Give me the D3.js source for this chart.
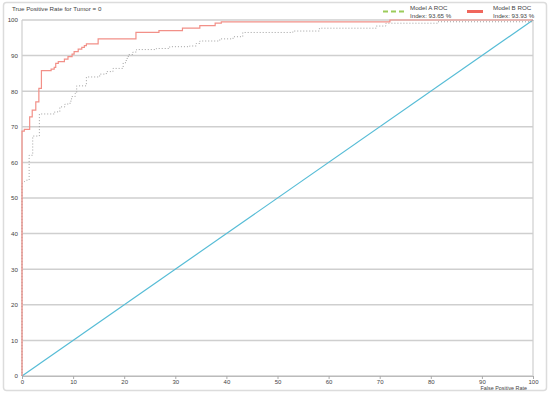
<!DOCTYPE html>
<html>
<head>
<meta charset="utf-8">
<script src="https://cdn.jsdelivr.net/npm/d3@7"></script>
<style>
  html, body { margin: 0; padding: 0; background: #fff; }
  svg text { font-family: "Liberation Sans", Arial, sans-serif; fill: #444; }
</style>
</head>
<body>
<svg id="chart" width="550" height="394"></svg>
<script>
// tick values on both axes
const xTicks = [0, 10, 20, 30, 40, 50, 60, 70, 80, 90, 100];
const yTicks = [0, 10, 20, 30, 40, 50, 60, 70, 80, 90, 100];

// Model B ROC (false positive rate, true positive rate)
const modelBFpr = [0, 0, 0.45, 0.45, 1.5, 1.5, 2.0, 2.0, 2.7, 2.7, 3.3, 3.3, 3.8, 3.8, 5.7, 5.7, 6.3, 6.3, 6.6, 6.6,
  7.1, 7.1, 8.3, 8.3, 9.0, 9.0, 9.8, 9.8, 10.2, 10.2, 11.0, 11.0, 11.7, 11.7, 12.2, 12.2, 12.6, 12.6,
  14.9, 14.9, 22.3, 22.3, 26.8, 26.8, 31.4, 31.4, 34.8, 34.8, 37.8, 37.8, 39.0, 39.0, 72.0, 72.0, 100];
const modelBTpr = [0, 68.8, 68.8, 69.3, 69.3, 72.8, 72.8, 74.7, 74.7, 77.0, 77.0, 80.8, 80.8, 85.8, 85.8, 86.2, 86.2, 86.7, 86.7, 87.8,
  87.8, 88.3, 88.3, 89.0, 89.0, 89.7, 89.7, 90.4, 90.4, 91.1, 91.1, 91.8, 91.8, 92.3, 92.3, 92.8, 92.8, 93.3,
  93.3, 94.7, 94.7, 96.5, 96.5, 97.0, 97.0, 97.7, 97.7, 98.4, 98.4, 99.1, 99.1, 99.5, 99.5, 100, 100];

// Model A ROC
const modelAFpr = [0, 0, 0.8, 1.4, 1.4, 2.1, 2.1, 3.4, 3.4, 6.4, 6.4, 7.4, 7.4, 8.4, 8.4, 9.4, 9.4, 9.7, 9.7, 10.4,
  10.4, 10.7, 10.7, 12.6, 12.6, 15.2, 15.2, 16.5, 16.5, 17.8, 17.8, 19.8, 19.8, 20.4, 20.4, 20.8, 20.8,
  21.7, 21.7, 22.4, 22.4, 26.3, 26.3, 28.9, 28.9, 32.8, 32.8, 34.1, 34.1, 34.8, 34.8, 38.7, 38.7,
  41.3, 41.3, 43.2, 43.2, 53.0, 53.0, 58.2, 58.2, 69.3, 69.3, 71.2, 71.2, 81.3, 81.3, 100, 100];
const modelATpr = [0, 54, 55, 55, 62, 62, 67.4, 67.4, 73.6, 73.6, 74.2, 74.2, 75.6, 75.6, 76.4, 76.4, 77.2, 77.2, 78.5, 78.5,
  79.4, 79.4, 81.5, 81.5, 84.0, 84.0, 84.8, 84.8, 85.5, 85.5, 86.4, 86.4, 88.0, 88.0, 89.2, 89.2, 90.3,
  90.3, 91.0, 91.0, 91.7, 91.7, 92.0, 92.0, 92.5, 92.5, 92.7, 92.7, 93.4, 93.4, 94.1, 94.1, 94.7,
  94.7, 95.3, 95.3, 96.5, 96.5, 96.9, 96.9, 97.7, 97.7, 98.3, 98.3, 99.1, 99.1, 99.5, 99.5, 100];

// chance line
const chanceFpr = [0, 100];
const chanceTpr = [0, 100];

const legendNames = ["Model A ROC", "Model B ROC"];
const legendIndex = ["Index: 93.65 %", "Index: 93.93 %"];

const svg = d3.select("#chart");
const plotLeft = 22, plotRight = 533, plotTop = 20, plotBottom = 376;

const x = d3.scaleLinear().domain([0, 100]).range([plotLeft, plotRight]);
const y = d3.scaleLinear().domain([0, 100]).range([plotBottom, plotTop]);

// outer frame
svg.append("rect")
  .attr("x", 3.5).attr("y", 2.5)
  .attr("width", 543).attr("height", 388)
  .attr("rx", 3)
  .attr("fill", "#fff")
  .attr("stroke", "#dcdcdc")
  .attr("stroke-width", 1.5);

// horizontal grid
svg.append("g")
  .selectAll("line")
  .data(yTicks)
  .join("line")
  .attr("x1", plotLeft).attr("x2", plotRight)
  .attr("y1", d => y(d)).attr("y2", d => y(d))
  .attr("stroke", "#cfcfcf")
  .attr("stroke-width", 1.5);

// plot borders left/right
svg.append("line")
  .attr("x1", plotRight).attr("x2", plotRight)
  .attr("y1", plotTop).attr("y2", plotBottom)
  .attr("stroke", "#cfcfcf").attr("stroke-width", 1.2);
svg.append("line")
  .attr("x1", plotLeft).attr("x2", plotLeft)
  .attr("y1", plotTop).attr("y2", plotBottom)
  .attr("stroke", "#cfcfcf").attr("stroke-width", 1.2);

// x axis
const xAxis = d3.axisBottom(x).tickValues(xTicks).tickSize(3).tickPadding(1);
const gx = svg.append("g").attr("transform", `translate(0,${plotBottom})`).call(xAxis);
gx.select(".domain").attr("stroke", "#bbb");
gx.selectAll(".tick line").attr("stroke", "#aaa");
gx.selectAll(".tick text").attr("font-size", 6).attr("fill", "#444");

// y axis
const yAxis = d3.axisLeft(y).tickValues(yTicks).tickSize(0).tickPadding(4);
const gy = svg.append("g").attr("transform", `translate(${plotLeft},0)`).call(yAxis);
gy.select(".domain").remove();
gy.selectAll(".tick text").attr("font-size", 6.2).attr("fill", "#444");

const line = d3.line().x(d => x(d[0])).y(d => y(d[1]));

// chance diagonal
svg.append("path")
  .datum(d3.zip(chanceFpr, chanceTpr))
  .attr("d", line)
  .attr("fill", "none")
  .attr("stroke", "#56bcd6")
  .attr("stroke-width", 1.2);

// Model A (dotted grey)
svg.append("path")
  .datum(d3.zip(modelAFpr, modelATpr))
  .attr("d", line)
  .attr("fill", "none")
  .attr("stroke", "#a0a0a0")
  .attr("stroke-width", 1)
  .attr("stroke-dasharray", "1,2");

// Model B (solid salmon)
svg.append("path")
  .datum(d3.zip(modelBFpr, modelBTpr))
  .attr("d", line)
  .attr("fill", "none")
  .attr("stroke", "#f29088")
  .attr("stroke-width", 1.2);

// titles
svg.append("text")
  .attr("x", 12).attr("y", 11)
  .attr("font-size", 6.2)
  .text("True Positive Rate for Tumor = 0");

svg.append("text")
  .attr("x", 527).attr("y", 389.5)
  .attr("text-anchor", "end")
  .attr("font-size", 5.4)
  .text("False Positive Rate");

// legend
const legendX = [383, 467];
const legendStyle = [
  { stroke: "#9ccc5a", width: 1.8, dash: "5,3", len: 22 },
  { stroke: "#f0665c", width: 3, dash: null, len: 16 }
];
const lg = svg.append("g").selectAll("g")
  .data(legendNames)
  .join("g")
  .attr("transform", (d, i) => `translate(${legendX[i]},0)`);

lg.append("line")
  .attr("x1", 0).attr("x2", (d, i) => legendStyle[i].len)
  .attr("y1", 11.5).attr("y2", 11.5)
  .attr("stroke", (d, i) => legendStyle[i].stroke)
  .attr("stroke-width", (d, i) => legendStyle[i].width)
  .attr("stroke-dasharray", (d, i) => legendStyle[i].dash);

lg.append("text")
  .attr("x", (d, i) => i === 0 ? 27 : 26)
  .attr("y", 9.5)
  .attr("font-size", 6.2)
  .text(d => d);

lg.append("text")
  .attr("x", (d, i) => i === 0 ? 27 : 26)
  .attr("y", 17.5)
  .attr("font-size", 6.2)
  .text((d, i) => legendIndex[i]);
</script>
</body>
</html>
